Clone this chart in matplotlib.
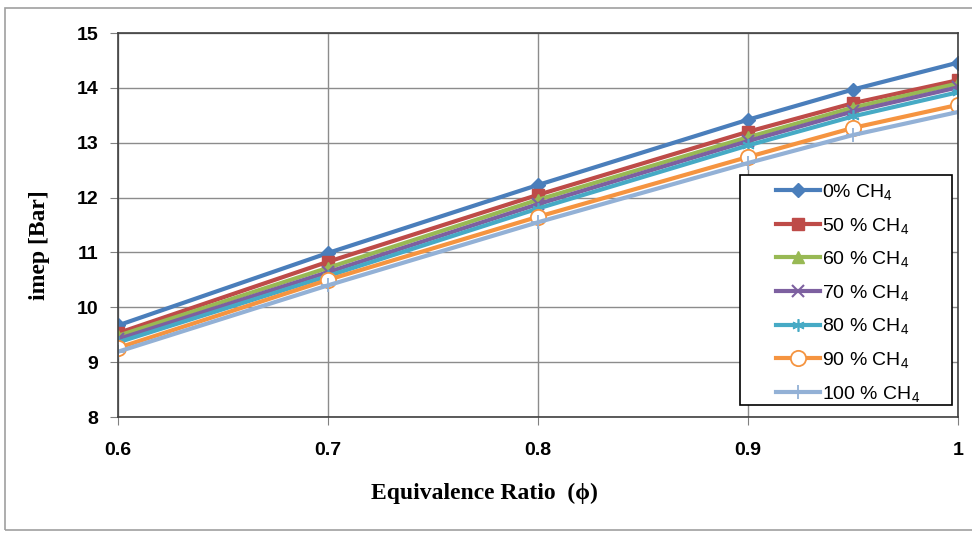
import matplotlib
matplotlib.use('Agg')
import matplotlib.pyplot as plt
from matplotlib.patches import Rectangle

# data
phi = [0.6, 0.7, 0.8, 0.9, 0.95, 1.0]
imep_0 = [9.67, 10.99, 12.23, 13.42, 13.97, 14.46]
imep_50 = [9.53, 10.83, 12.05, 13.20, 13.72, 14.14]
imep_60 = [9.48, 10.72, 11.96, 13.10, 13.64, 14.08]
imep_70 = [9.42, 10.64, 11.88, 13.03, 13.57, 14.01]
imep_80 = [9.36, 10.57, 11.80, 12.95, 13.48, 13.92]
imep_90 = [9.26, 10.50, 11.65, 12.74, 13.27, 13.69]
imep_100 = [9.19, 10.40, 11.55, 12.63, 13.14, 13.56]

labels = ['0% CH$_4$', '50 % CH$_4$', '60 % CH$_4$', '70 % CH$_4$',
          '80 % CH$_4$', '90 % CH$_4$', '100 % CH$_4$']
x_ticks = [0.6, 0.7, 0.8, 0.9, 1.0]
x_ticklabels = ['0.6', '0.7', '0.8', '0.9', '1']
y_ticks = [8, 9, 10, 11, 12, 13, 14, 15]

plt.rcParams['mathtext.fontset'] = 'custom'
plt.rcParams['mathtext.rm'] = 'Liberation Sans'
plt.rcParams['mathtext.it'] = 'Liberation Sans'

fig = plt.figure(figsize=(9.72, 5.35), dpi=100)
ax = fig.add_axes([118/972, 1-417/535, 840/972, 384/535])

# chart-area frame like excel
fig.patches.append(Rectangle((5/972, 5/535), 1.2, 1-13/535, transform=fig.transFigure,
                             fill=False, ec='#a0a0a0', lw=1.2))

series = [imep_0, imep_50, imep_60, imep_70, imep_80, imep_90, imep_100]
colors = ['#4A7EBB', '#BE4B48', '#98B954', '#7D60A0', '#46AAC5', '#F59440', '#93B1D6']
styles = [dict(marker='D', ms=7),
          dict(marker='s', ms=8),
          dict(marker='^', ms=9),
          dict(marker='x', ms=8, mew=1.5),
          dict(marker=(6, 2, 0), ms=9, mew=1.2),
          dict(marker='o', ms=11, mfc='white', mew=1.3),
          dict(marker='+', ms=10, mew=1.3)]

for s, col, st, lab in zip(series, colors, styles, labels):
    ax.plot(phi, s, color=col, lw=3, label=lab, **st)

ax.set_xlim(0.6, 1.0)
ax.set_ylim(8, 15)
ax.set_xticks(x_ticks)
ax.set_xticklabels(x_ticklabels)
ax.set_yticks(y_ticks)
ax.grid(True, color='#8c8c8c', lw=1)
ax.set_axisbelow(True)
for sp in ax.spines.values():
    sp.set_color('#404040')
    sp.set_linewidth(1.2)
ax.tick_params(direction='out', length=6, color='#808080')
ax.tick_params(axis='x', pad=12)
ax.tick_params(axis='y', pad=8)
for t in ax.get_xticklabels() + ax.get_yticklabels():
    t.set_fontsize(14)
    t.set_fontweight('bold')
    t.set_family('Liberation Sans')

fig.text(40/972, 1-245/535, 'imep [Bar]', rotation=90, ha='center', va='center',
         fontsize=17, fontweight='bold', family=['Liberation Serif', 'DejaVu Serif'])
fig.text(484/972, 1-493/535, 'Equivalence Ratio  (\u03d5)', ha='center', va='center',
         fontsize=17, fontweight='bold', family=['Liberation Serif', 'DejaVu Serif'])

# legend box drawn separately so it can be as wide as excel's
ax.add_patch(Rectangle((0.7405, 0.031), 0.2524, 0.599, transform=ax.transAxes,
                       fc='white', ec='black', lw=1.2, zorder=4))
leg = ax.legend(loc='upper left', bbox_to_anchor=(0.783, 0.612), frameon=False,
                labelspacing=0.7, handlelength=2.3, handletextpad=0.1,
                borderpad=0, borderaxespad=0, prop={'family': 'Liberation Sans', 'size': 14})
leg.set_zorder(5)

fig.savefig('out.png', dpi=100)
